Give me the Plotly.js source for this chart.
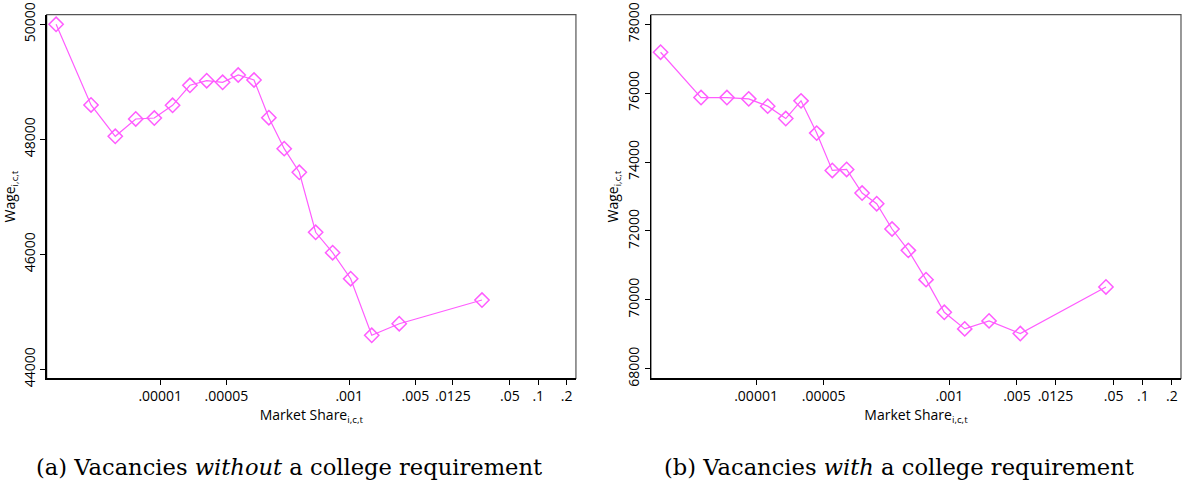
<!DOCTYPE html>
<html>
<head>
<meta charset="utf-8">
<script src="https://cdn.plot.ly/plotly-3.0.1.min.js"></script>
<style>
  body { margin: 0; background: white; }
  #chart { width: 1188px; height: 486px; }
</style>
</head>
<body>
<div id="chart"></div>
<script>
// market share bins and mean wage
const SHARE_NOCOL = [ 7.9e-7, 1.85e-6, 3.34e-6, 5.5e-6, 8.65e-6, 1.35e-5, 2.06e-5, 3.10e-5, 4.57e-5, 6.68e-5,
                      9.82e-5, 1.41e-4, 2.05e-4, 2.96e-4, 4.41e-4, 6.67e-4, 1.035e-3, 1.73e-3, 3.38e-3, 0.0254 ];
const WAGE_NOCOL  = [ 50000, 48597, 48052, 48353, 48370, 48591, 48939, 49019, 48991, 49118,
                      49031, 48376, 47837, 47426, 46383, 46028, 45576, 44591, 44793, 45205 ];

const SHARE_COL   = [ 1.03e-6, 2.70e-6, 5.0e-6, 8.4e-6, 1.32e-5, 2.03e-5, 2.92e-5, 4.24e-5, 6.15e-5, 8.65e-5,
                      1.25e-4, 1.77e-4, 2.55e-4, 3.76e-4, 5.73e-4, 8.85e-4, 1.44e-3, 2.57e-3, 5.41e-3, 0.0416 ];
const WAGE_COL    = [ 77188, 75872, 75872, 75835, 75623, 75264, 75777, 74841, 73757, 73786,
                      73101, 72791, 72058, 71438, 70588, 69641, 69159, 69391, 69023, 70377 ];

const X_TICKS       = [ 0.00001, 0.00005, 0.001, 0.005, 0.0125, 0.05, 0.1, 0.2 ];
const X_TICK_TEXT   = [ '.00001', '.00005', '.001', '.005', '.0125', '.05', '.1', '.2' ];
const Y_TICKS_NOCOL = [ 44000, 46000, 48000, 50000 ];
const Y_TICKS_COL   = [ 68000, 70000, 72000, 74000, 76000, 78000 ];

const CAPTIONS = [ '(a) Vacancies <i>without</i> a college requirement',
                   '(b) Vacancies <i>with</i> a college requirement' ];

const MAGENTA   = '#ff5cff';
const TICK_FONT = { family: 'Open Sans, DejaVu Sans, sans-serif', size: 14, color: '#000' };

function make_trace( xs, ys, xa, ya ) {
	return {
		x: xs, y: ys, xaxis: xa, yaxis: ya,
		type: 'scatter', mode: 'lines+markers',
		line: { color: MAGENTA, width: 1.2 },
		marker: { symbol: 'diamond-open', size: 11, color: MAGENTA, line: { width: 1.5, color: MAGENTA } },
		hoverinfo: 'none', showlegend: false
	};
}

function make_xaxis( domain, range, anchor ) {
	return {
		domain: domain, type: 'log', range: range, anchor: anchor,
		tickvals: X_TICKS, ticktext: X_TICK_TEXT,
		ticks: 'outside', ticklen: 5, tickcolor: '#000', tickfont: TICK_FONT,
		showgrid: false, zeroline: false,
		showline: true, linecolor: '#000', linewidth: 1.2,
		title: { text: 'Market Share<sub>i,c,t</sub>', font: TICK_FONT, standoff: 4 }
	};
}

function make_yaxis( domain, range, ticks, anchor ) {
	return {
		domain: domain, range: range, anchor: anchor,
		tickvals: ticks, ticktext: ticks.map( String ), tickangle: -90,
		ticks: 'outside', ticklen: 5, tickcolor: '#000', tickfont: TICK_FONT,
		showgrid: false, zeroline: false,
		showline: true, linecolor: '#000', linewidth: 1.2,
		title: { text: 'Wage<sub>i,c,t</sub>', font: TICK_FONT, standoff: 2 }
	};
}

function box( xa, ya ) {
	return {
		type: 'rect', xref: xa + ' domain', yref: ya + ' domain',
		x0: 0, x1: 1, y0: 0, y1: 1,
		line: { color: '#555', width: 1.2 }, layer: 'below'
	};
}

const Y_DOMAIN = [ 0.2212, 0.9698 ];
const CAPTION_FONT = { family: '"DejaVu Serif", "Liberation Serif", serif', size: 22.6, color: '#000' };

const traces = [
	make_trace( SHARE_NOCOL, WAGE_NOCOL, 'x', 'y' ),
	make_trace( SHARE_COL,   WAGE_COL,   'x2', 'y2' )
];

const layout = {
	width: 1188, height: 486, autosize: false,
	margin: { l: 0, r: 0, t: 0, b: 0 },
	paper_bgcolor: 'white', plot_bgcolor: 'white',
	xaxis : make_xaxis( [ 0.0393, 0.4848 ], [ -6.202, -0.601 ], 'y' ),
	yaxis : make_yaxis( Y_DOMAIN, [ 43840, 50167 ], Y_TICKS_NOCOL, 'x' ),
	xaxis2: make_xaxis( [ 0.548, 0.9941 ], [ -6.086, -0.605 ], 'y2' ),
	yaxis2: make_yaxis( Y_DOMAIN, [ 67719, 78278 ], Y_TICKS_COL, 'x2' ),
	shapes: [ box( 'x', 'y' ), box( 'x2', 'y2' ) ],
	annotations: [
		{ text: CAPTIONS[ 0 ], x: 289 / 1188, y: 19 / 486, xref: 'paper', yref: 'paper', showarrow: false,
		  xanchor: 'center', yanchor: 'middle', font: CAPTION_FONT },
		{ text: CAPTIONS[ 1 ], x: 899 / 1188, y: 19 / 486, xref: 'paper', yref: 'paper', showarrow: false,
		  xanchor: 'center', yanchor: 'middle', font: CAPTION_FONT }
	]
};

Plotly.newPlot( 'chart', traces, layout, { displayModeBar: false, staticPlot: true } );
</script>
</body>
</html>
